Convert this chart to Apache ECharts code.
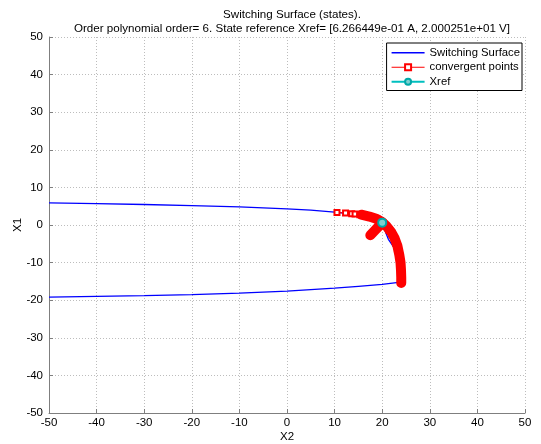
<!DOCTYPE html>
<html>
<head>
<meta charset="utf-8">
<script src="https://cdn.jsdelivr.net/npm/echarts@6/dist/echarts.min.js"></script>
<style>html,body{margin:0;padding:0;background:#fff}#c{width:541px;height:444px}</style>
</head>
<body>
<div id="c"></div>
<script>
// Switching surface (X2, X1)
const surface = [
  [-50, 5.9], [-40, 5.7], [-30, 5.45], [-20, 5.15], [-10, 4.8], [0, 4.3], [5, 3.95],
  [10, 3.45], [13, 3.05], [15, 2.75], [17, 2.3], [18.5, 1.7], [19.5, 1.1], [20.0, 0.6],
  [20.3, -0.6], [21.3, -3.8], [22.6, -6.2], [23.4, -9], [23.9, -12], [24.3, -15.1],
  [20, -15.8], [15, -16.3], [10, -16.8], [5, -17.2], [0, -17.6], [-10, -18.1],
  [-20, -18.5], [-30, -18.8], [-40, -19.0], [-50, -19.2]
];
// Convergent points (squares)
const convergent = [
  [10.5, 3.3], [12.3, 3.2], [13.6, 3.0], [14.3, 2.95], [15.3, 2.75], [16.0, 2.6],
  [16.8, 2.4], [17.5, 2.2], [18.2, 1.9], [18.9, 1.6], [19.6, 1.1], [20.2, 0.5],
  [20.8, -0.3], [21.4, -1.3], [22.0, -2.4], [22.5, -3.5], [22.9, -4.8], [23.2, -6.2],
  [23.5, -8.0], [23.7, -9.5], [23.8, -11], [23.9, -12.5], [23.9, -14], [23.9, -15.2]
];
// Dense (overlapping) convergent band and spur
const band = [
  [15.6, 2.75], [17.3, 2.25], [18.9, 1.6], [20.0, 0.8], [20.9, -0.3], [21.9, -1.9],
  [22.6, -3.5], [23.2, -5.6], [23.6, -8.0], [23.85, -10], [23.95, -12.0], [24.0, -14],
  [24.0, -15.4], null,
  [17.5, -2.7], [18.5, -1.4], [19.4, -0.2], [20.0, 0.63]
];
// Reference state
const xref = [[20.00251, 0.6266449]];
const xTicks = [-50, -40, -30, -20, -10, 0, 10, 20, 30, 40, 50];
const yTicks = [-50, -40, -30, -20, -10, 0, 10, 20, 30, 40, 50];

const FONT = 'Liberation Sans';
const FS = 11.5;
const chart = echarts.init(document.getElementById('c'));
const axisCommon = {
  type: 'value', min: -50, max: 50, interval: 10,
  axisLine: { show: true, onZero: false, lineStyle: { color: '#7f7f7f', width: 1 } },
  axisTick: { show: true, inside: true, length: 4, lineStyle: { color: '#7f7f7f' } },
  splitLine: { show: true, lineStyle: { color: '#bdbdbd', type: [1, 2], width: 1 } },
  axisLabel: { color: '#000', fontFamily: FONT, fontSize: FS },
  nameTextStyle: { color: '#000', fontFamily: FONT, fontSize: FS },
  nameLocation: 'middle',
  nameMoveOverlap: false
};
chart.setOption({
  animation: false,
  backgroundColor: '#fff',
  title: {
    text: 'Switching Surface (states).\nOrder polynomial order= 6. State reference Xref= [6.266449e-01 A, 2.000251e+01 V]',
    left: 287, top: 3, textAlign: 'center',
    textStyle: { fontFamily: FONT, fontSize: 11.6, fontWeight: 'normal', color: '#000', lineHeight: 14 }
  },
  grid: { left: 49, right: 16, top: 37, bottom: 31, outerBoundsMode: 'none', containLabel: false },
  legend: {
    data: [
      { name: 'Switching Surface', itemStyle: { opacity: 0 }, lineStyle: { width: 1.3 } },
      { name: 'convergent points', lineStyle: { width: 1 }, itemStyle: { borderWidth: 1 } },
      { name: 'Xref', lineStyle: { width: 2 } }
    ],
    orient: 'vertical', right: 19, top: 43,
    backgroundColor: '#fff', borderColor: '#000', borderWidth: 1,
    padding: [3, 2, 2, 4], itemGap: 1, itemWidth: 33, itemHeight: 7.5,
    textStyle: { fontFamily: FONT, fontSize: 11.3, color: '#000', lineHeight: 13.5 }
  },
  xAxis: Object.assign({}, axisCommon, { name: 'X2', nameGap: 18,
    axisLabel: Object.assign({}, axisCommon.axisLabel, { margin: 4,
      formatter: v => xTicks.includes(v) ? String(v) : '' }) }),
  yAxis: Object.assign({}, axisCommon, { name: 'X1', nameGap: 25,
    axisLabel: Object.assign({}, axisCommon.axisLabel, { margin: 6,
      formatter: v => yTicks.includes(v) ? String(v) : '' }) }),
  series: [
    {
      name: 'Switching Surface', type: 'line', data: surface, symbol: 'none',
      lineStyle: { color: '#0000ff', width: 1.3 }, itemStyle: { color: '#0000ff' }, z: 2
    },
    {
      name: 'convergent points', type: 'line', data: convergent, symbol: 'emptyRect', symbolSize: 5,
      showAllSymbol: true,
      lineStyle: { color: '#ff0000', width: 1 }, itemStyle: { color: '#ff0000', borderWidth: 1 }, z: 3
    },
    {
      name: 'band', type: 'line', data: band, symbol: 'none', connectNulls: false,
      lineStyle: { color: '#ff0000', width: 10, cap: 'round', join: 'round' }, z: 4, silent: true
    },
    {
      name: 'Xref', type: 'line', data: xref, symbol: 'circle', symbolSize: 8,
      lineStyle: { color: '#00bfbf', width: 2 },
      itemStyle: { color: '#7fcfcf', borderColor: '#00a8a8', borderWidth: 2 }, z: 5
    }
  ]
});
</script>
</body>
</html>
